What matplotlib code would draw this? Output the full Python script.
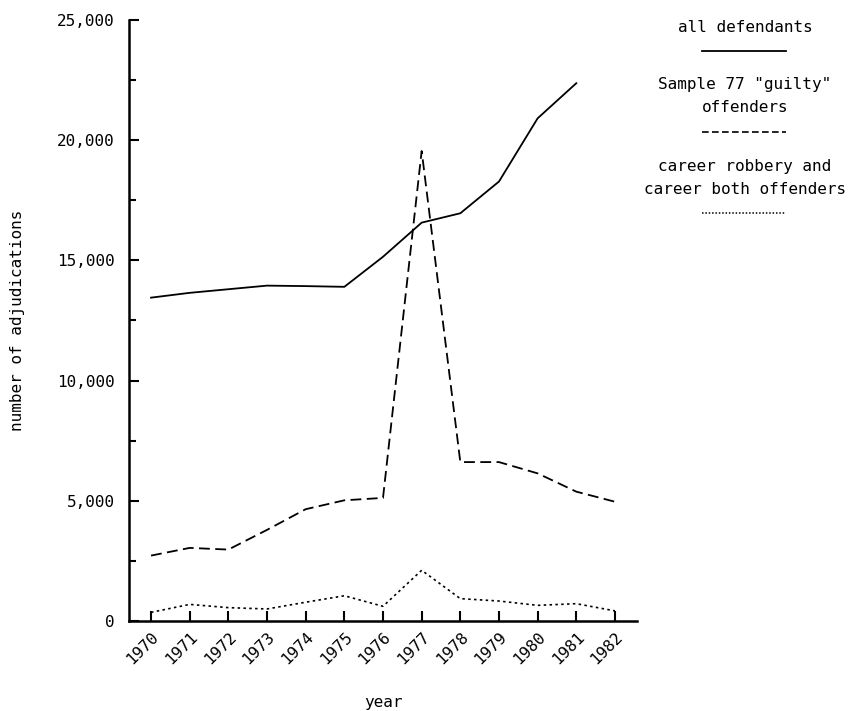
import numpy as np
import matplotlib
matplotlib.use('Agg')
import matplotlib.pyplot as plt
from matplotlib.ticker import FuncFormatter, MultipleLocator

plt.rcParams['font.family'] = ['DejaVu Sans Mono']

years = list(range(1970, 1983))
all_defendants = [13450, 13650, 13800, 13950, 13930, 13900, 15150,
                  16570, 16960, 18280, 20910, 22370]
sample77 = [2720, 3040, 2970, 3790, 4650, 5020, 5120,
            19550, 6610, 6610, 6140, 5380, 4960]
career = [360, 690, 555, 500, 780, 1050, 610,
          2110, 930, 830, 650, 720, 420]

FS = 11.5

fig = plt.figure(figsize=(8.6, 7.11), dpi=100)
ax = fig.add_axes([0.15, 0.1266, 0.5907, 0.8453])

ax.plot(years[:len(all_defendants)], all_defendants, color='black', lw=1.3)
ax.plot(years, sample77, color='black', lw=1.3, dashes=(6, 3))
ax.plot(years, career, color='black', lw=1.2, dashes=(1.5, 2))

ax.set_xlim(1969.43, 1982.57)
ax.set_ylim(0, 25000)
for s in ['top', 'right']:
    ax.spines[s].set_visible(False)
for s in ['left', 'bottom']:
    ax.spines[s].set_linewidth(1.8)

ax.set_xticks(years)
ax.set_xticklabels([str(y) for y in years], rotation=45, ha='right',
                   rotation_mode='anchor')
ax.yaxis.set_major_locator(MultipleLocator(5000))
ax.yaxis.set_minor_locator(MultipleLocator(2500))
ax.yaxis.set_major_formatter(FuncFormatter(lambda v, p: f'{int(v):,}'))
ax.tick_params(axis='both', which='both', direction='in', width=1.5, labelsize=FS)
ax.tick_params(axis='y', which='major', length=7, pad=10)
ax.tick_params(axis='y', which='minor', length=5)
ax.tick_params(axis='x', length=7, pad=6)

ax.set_xlabel('year', fontsize=FS)
ax.xaxis.set_label_coords(0.5, -0.136)
ax.xaxis.label.set_va('center')
ax.set_ylabel('number of adjudications', fontsize=FS)
ax.yaxis.set_label_coords(-0.219, 0.5)
ax.yaxis.label.set_va('center')

# legend drawn as text blocks with sample lines below them
cx = 745 / 860
def fy(py):
    return 1 - py / 711

x0, x1 = 702 / 860, 786 / 860
fig.text(cx, fy(27), 'all defendants', ha='center', va='center', fontsize=FS)
fig.add_artist(plt.Line2D([x0, x1], [fy(51)] * 2, color='black', lw=1.3))
fig.text(cx, fy(84), 'Sample 77 "guilty"', ha='center', va='center', fontsize=FS)
fig.text(cx, fy(108), 'offenders', ha='center', va='center', fontsize=FS)
fig.add_artist(plt.Line2D([x0, x1], [fy(132)] * 2, color='black',
                          lw=1.2, dashes=(4, 2)))
fig.text(cx, fy(166), 'career robbery and', ha='center', va='center', fontsize=FS)
fig.text(cx, fy(189), 'career both offenders', ha='center', va='center', fontsize=FS)
fig.add_artist(plt.Line2D([x0, x1], [fy(213)] * 2, color='black',
                          lw=1.1, dashes=(1, 1.2)))

fig.savefig('out.png', dpi=100)
